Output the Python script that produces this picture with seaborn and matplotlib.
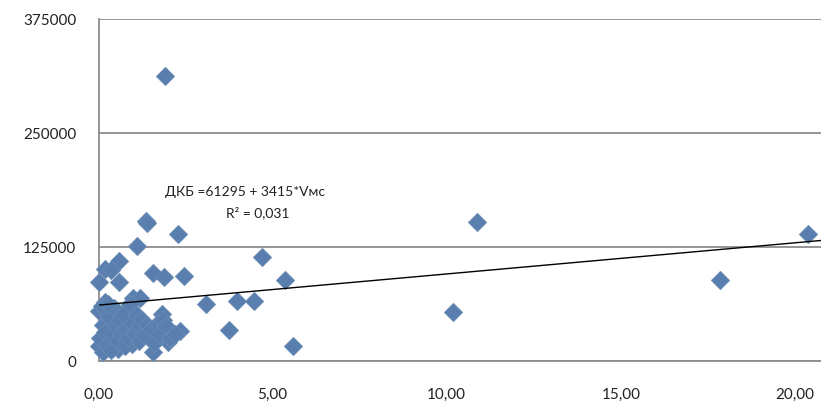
import matplotlib
matplotlib.use("Agg")
import matplotlib.pyplot as plt
import seaborn as sns
import pandas as pd
import numpy as np

# Data
vms = [1.91, 1.36, 1.39, 2.28, 1.10, 0.59, 0.19, 0.36, 0.01, 0.59, 1.56, 1.88, 2.45,
       4.69, 5.35, 3.08, 3.97, 4.46, 3.74, 5.58, 10.17, 10.86, 17.86, 20.39,
       0.00, 0.19, 1.00, 1.19, 1.81, 2.34, 1.57, 0.57, 0.95, 0.00, 0.14, 2.00, 1.43,
       0.05, 0.12, 0.20, 0.25, 0.30, 0.35, 0.40, 0.45, 0.50, 0.55, 0.60, 0.65, 0.70,
       0.75, 0.80, 0.85, 0.90, 0.95, 1.05, 1.10, 1.15, 1.20, 1.25, 1.30, 1.40, 1.50,
       1.60, 1.70, 1.75, 1.85, 1.95, 2.05, 2.20, 0.10, 0.28]
dkb = [313000, 154000, 151000, 139000, 126000, 110000, 101000, 100000, 87000, 87000,
       96500, 92000, 93000, 114000, 89000, 62500, 66000, 66000, 34000, 16500, 53700,
       152400, 88800, 139000,
       55000, 65000, 68700, 68700, 51500, 33200, 9500, 13000, 18600, 16800, 9500,
       20500, 27700,
       25000, 40000, 32000, 18000, 48000, 12000, 28000, 58000, 38000, 22000, 45000,
       30000, 52000, 16000, 35000, 25000, 62000, 42000, 30000, 50000, 22000, 38000,
       45000, 28000, 40000, 35000, 20000, 42000, 30000, 45000, 38000, 25000, 30000,
       60000, 62000]

intercept = 61295
slope = 3415
equation_text = "ДКБ =61295 + 3415*Vмс"
r2_text = "R² = 0,031"

y_ticks = [0, 125000, 250000, 375000]
y_tick_labels = ["0", "125000", "250000", "375000"]
x_ticks = [0, 5, 10, 15, 20]
x_tick_labels = ["0,00", "5,00", "10,00", "15,00", "20,00"]

sns.set_theme(style="white")
plt.rcParams['font.family'] = ['Lato', 'DejaVu Sans']

fig = plt.figure(figsize=(8.21, 4.06), dpi=100)
ax = fig.add_axes([98.5 / 821, 44 / 406, 1 - 98.5 / 821, 342 / 406])

df = pd.DataFrame({"Vмс": vms, "ДКБ": dkb})
sns.scatterplot(data=df, x="Vмс", y="ДКБ", marker="D", s=90, color="#5a7fae",
                edgecolor="#6f8fb8", linewidth=0.4, ax=ax, zorder=3, clip_on=False)

xmax = 20.75
line_df = pd.DataFrame({"x": [0, xmax]})
line_df["y"] = intercept + slope * line_df["x"]
sns.lineplot(data=line_df, x="x", y="y", color="black", linewidth=1.0, ax=ax, zorder=4)

ax.set_xlim(0, xmax)
ax.set_ylim(0, 375000)
ax.set_yticks(y_ticks)
ax.set_yticklabels(y_tick_labels)
ax.set_xticks(x_ticks)
ax.set_xticklabels(x_tick_labels)
ax.set_xlabel("")
ax.set_ylabel("")

ax.grid(axis="y", color="#8c8c8c", linewidth=1.3)
ax.grid(axis="x", visible=False)
ax.set_axisbelow(True)
for s in ["top", "right"]:
    ax.spines[s].set_visible(False)
for s in ["left", "bottom"]:
    ax.spines[s].set_color("#8c8c8c")
    ax.spines[s].set_linewidth(1.3)

ax.tick_params(axis="both", which="major", direction="out", length=5, width=1.0,
               color="#8c8c8c", labelsize=11, labelcolor="#222222")
ax.tick_params(axis="x", pad=14)
ax.tick_params(axis="y", pad=11)

ax.annotate(equation_text, xy=(245, 406 - 192), xycoords="figure pixels",
            ha="center", va="center", fontsize=10, color="#222222")
ax.annotate(r2_text, xy=(258, 406 - 213), xycoords="figure pixels",
            ha="center", va="center", fontsize=10, color="#222222")

fig.savefig("out.png", dpi=100)
